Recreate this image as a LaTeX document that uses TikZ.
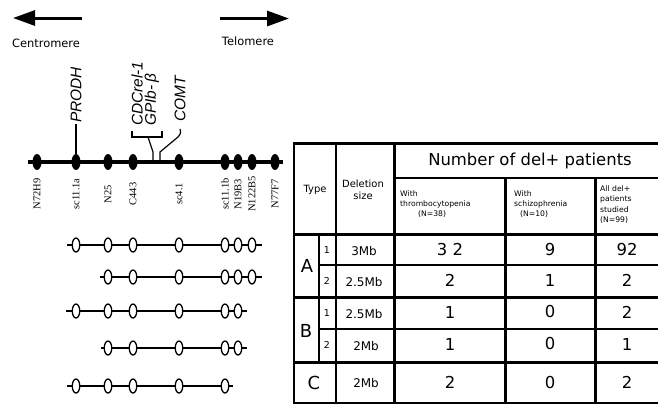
\documentclass[tikz,border=0pt]{standalone}
\usepackage{fontspec}
\setmainfont{Liberation Serif}
\newfontfamily\tabfont{DejaVu Sans}
\newfontfamily\genefont{Liberation Sans}
\usetikzlibrary{shapes.geometric,arrows.meta}
\begin{document}
\begin{tikzpicture}[x=1bp,y=-1bp,
  chrom/.style={line width=3.6bp},
  solidmark/.style={ellipse, fill=black, minimum width=9bp, minimum height=16bp, inner sep=0pt},
  openmark/.style={ellipse, draw=black, fill=white, line width=1.3bp, minimum width=7.5bp, minimum height=14bp, inner sep=0pt},
  dele/.style={line width=2.8bp},
  mlabel/.style={rotate=90, font=\fontsize{10.5}{11}\selectfont, inner sep=0pt},
  gene/.style={rotate=90, anchor=west, font=\genefont\itshape\fontsize{15.5}{16}\selectfont, inner sep=1bp},
  thin/.style={line width=1.2bp},
  thick3/.style={line width=3bp},
  dirarrow/.style={line width=3bp, -{Triangle[length=22bp,width=15bp]}},
  side/.style={font=\tabfont\fontsize{11.5}{12}\selectfont, inner sep=0pt},
  hd/.style={font=\tabfont\fontsize{10}{12}\selectfont, align=center, inner sep=0pt},
  sub/.style={font=\tabfont\fontsize{7.7}{10.3}\selectfont, align=left, anchor=north west, inner sep=0pt},
  big/.style={font=\tabfont\fontsize{18}{18}\selectfont, inner sep=0pt},
  idx/.style={font=\tabfont\fontsize{9.5}{9.5}\selectfont, inner sep=0pt},
  size/.style={font=\tabfont\fontsize{12}{12}\selectfont, inner sep=0pt},
  val/.style={font=\tabfont\fontsize{16.5}{16.5}\selectfont, inner sep=0pt}
]
\useasboundingbox (0,0) rectangle (658,404);

% direction arrows
\coordinate (la1) at (82,18); \coordinate (la2) at (13,18);
\coordinate (ra1) at (220,18.5); \coordinate (ra2) at (289,18.5);
\draw[dirarrow] (la1) -- (la2);
\draw[dirarrow] (ra1) -- (ra2);
\node[side] (centro) at (46,43) {Centromere};
\node[side] (telo) at (248,41) {Telomere};

% chromosome map
\coordinate (cl) at (28,162); \coordinate (cr) at (283,162);
\draw[chrom] (cl) -- (cr);
\foreach \x/\n/\l in {37/m1/N72H9, 76/m2/sc11.1a, 108/m3/N25, 133/m4/C443, 179/m5/sc4.1, 225/m6/sc11.1b, 238/m7/N19B3, 252/m8/N122B5, 275/m9/N77F7}{
  \node[solidmark] (\n) at (\x,162) {};
  \node[mlabel] (l\n) at (\x,194) {\l};
}

% genes
\node[gene] (prodh) at (76,124) {PRODH};
\draw[thin] (m2) -- (m2 |- prodh.west);
\node[gene] (cdc) at (137,127) {CDCrel-1};
\node[gene] (gpib) at (152,127) {GPIb-\,β};
\node[gene] (comt) at (180,123) {COMT};
\coordinate (bk1) at (132,131); \coordinate (bk2) at (162,131);
\draw[thin] (bk1) -- (132,137) -- (162,137) -- (bk2);
\coordinate (j1) at (153,162); \coordinate (j2) at (160,162);
\draw[thin] (148,137) -- (153,152) -- (j1);
\draw[thin] (comt.west) ++(0,6) .. controls (181,133) .. (178,137) -- (160,152) -- (j2);

% deletion maps
\foreach \r/\y/\a/\b/\xs in {1/245/67/262/{76,108,133,179,225,238,252},
                              2/277/100/262/{108,133,179,225,238,252},
                              3/311/66/247/{76,108,133,179,225,238},
                              4/348/101/247/{108,133,179,225,238},
                              5/386/67/233/{76,108,133,179,225}}{
  \coordinate (da\r) at (\a,\y); \coordinate (db\r) at (\b,\y);
  \draw[dele] (da\r) -- (db\r);
  \foreach \x in \xs { \node[openmark] (d\r-\x) at (\x,\y) {}; }
}

% table grid
\draw[thick3] (292.5,143) -- (658,143);
\draw[line width=2bp] (294,143) -- (294,403) -- (658,403);
\draw[thin] (336,143) -- (336,403);
\draw[thin] (319,234) -- (319,362);
\draw[thick3] (394,143) -- (394,403);
\draw[thick3] (505,178) -- (505,403);
\draw[thick3] (595,178) -- (595,403);
\draw[line width=2bp] (394,178) -- (658,178);
\draw[thick3] (294,234) -- (658,234);
\draw[thin] (319,265) -- (658,265);
\draw[thick3] (294,297) -- (658,297);
\draw[thin] (319,329) -- (658,329);
\draw[thick3] (294,362) -- (658,362);

% table header
\node[font=\tabfont\fontsize{16.5}{17}\selectfont, inner sep=0pt] (numhd) at (530,161) {Number of del+ patients};
\node[hd] (type) at (315,190) {Type};
\node[hd] (delsize) at (363,190) {Deletion\\size};
\node[sub] (c1) at (400,190) {With\\thrombocytopenia\\\hspace*{18bp}(N=38)};
\node[sub] (c2) at (514,190) {With\\schizophrenia\\\hspace*{6bp}(N=10)};
\node[sub] (c3) at (600,185.5) {All del+\\patients\\studied\\(N=99)};

% table body
\node[big] (tA) at (307,266) {A};
\node[big] (tB) at (306,331) {B};
\node[big] (tC) at (314,383) {C};
\node[idx] (a1) at (327,250) {1};
\node[idx] (a2) at (327,281) {2};
\node[idx] (b1) at (327,313) {1};
\node[idx] (b2) at (327,345) {2};
\node[size] (sa1) at (364,251) {3Mb};
\node[size] (sa2) at (364,282) {2.5Mb};
\node[size] (sb1) at (364,314) {2.5Mb};
\node[size] (sb2) at (366,346) {2Mb};
\node[size] (sc) at (366,383) {2Mb};
\foreach \y/\p/\q/\s/\n in {250/{3 2}/9/92/r1, 280.5/2/1/2/r2, 312/1/0/2/r3, 344/1/0/1/r4, 382.5/2/0/2/r5}{
  \node[val] (v1\n) at (450,\y) {\p};
  \node[val] (v2\n) at (550,\y) {\q};
  \node[val] (v3\n) at (627,\y) {\s};
}
\end{tikzpicture}
\end{document}
